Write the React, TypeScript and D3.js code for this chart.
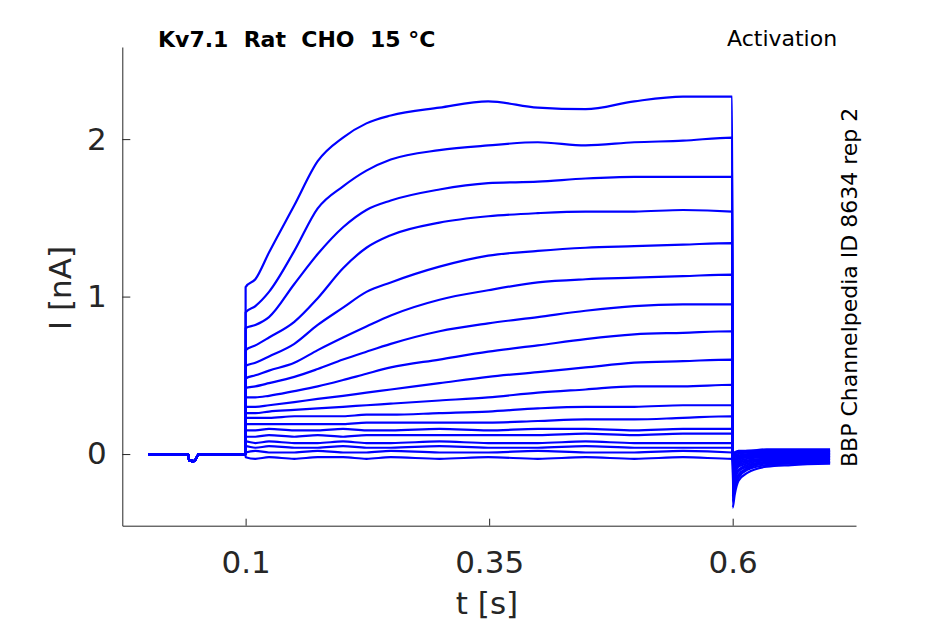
import React, { useEffect, useRef } from 'react';
import * as d3 from 'd3';

// tick values
const xTicks = [0.1, 0.35, 0.6];
const xTickLabels = ['0.1', '0.35', '0.6'];
const yTicks = [0, 1, 2];

// holding period before the step (all sweeps overlap here)
const baselineTimes = [0, 0.041, 0.042, 0.047, 0.049, 0.052, 0.0999];
const baselineCurrents = [0, 0, -0.04, -0.045, -0.03, 0, 0];

// sample times during the activation step (s)
const stepTimes = [0.1, 0.11, 0.124, 0.15, 0.174, 0.2, 0.224, 0.249, 0.299, 0.349, 0.4, 0.449, 0.499, 0.549, 0.5995];

// current (nA) of each sweep during the step
const stepCurrents = [
    [1.06, 1.11, 1.28, 1.58, 1.86, 2.01, 2.10, 2.15, 2.20, 2.24, 2.20, 2.19, 2.24, 2.27, 2.27],
    [0.90, 0.94, 1.03, 1.29, 1.56, 1.70, 1.80, 1.87, 1.93, 1.96, 1.98, 1.96, 1.98, 1.99, 2.01],
    [0.80, 0.82, 0.87, 1.08, 1.27, 1.44, 1.55, 1.61, 1.68, 1.72, 1.73, 1.75, 1.76, 1.76, 1.76],
    [0.66, 0.69, 0.74, 0.84, 0.99, 1.18, 1.31, 1.39, 1.47, 1.51, 1.53, 1.54, 1.54, 1.55, 1.54],
    [0.56, 0.58, 0.62, 0.70, 0.82, 0.93, 1.03, 1.09, 1.19, 1.26, 1.29, 1.31, 1.32, 1.33, 1.34],
    [0.48, 0.50, 0.53, 0.58, 0.66, 0.74, 0.81, 0.88, 0.98, 1.04, 1.09, 1.11, 1.12, 1.13, 1.14],
    [0.42, 0.43, 0.45, 0.49, 0.54, 0.60, 0.65, 0.70, 0.78, 0.83, 0.87, 0.91, 0.94, 0.95, 0.95],
    [0.36, 0.36, 0.37, 0.40, 0.43, 0.47, 0.51, 0.55, 0.60, 0.65, 0.69, 0.73, 0.76, 0.77, 0.78],
    [0.30, 0.30, 0.31, 0.33, 0.35, 0.37, 0.39, 0.41, 0.45, 0.49, 0.52, 0.55, 0.58, 0.59, 0.60],
    [0.26, 0.26, 0.27, 0.28, 0.29, 0.30, 0.31, 0.32, 0.34, 0.36, 0.39, 0.41, 0.43, 0.43, 0.44],
    [0.23, 0.23, 0.23, 0.24, 0.24, 0.24, 0.25, 0.25, 0.26, 0.27, 0.29, 0.30, 0.30, 0.31, 0.31],
    [0.19, 0.19, 0.19, 0.19, 0.19, 0.19, 0.20, 0.20, 0.20, 0.20, 0.21, 0.22, 0.22, 0.23, 0.24],
    [0.15, 0.15, 0.16, 0.15, 0.15, 0.16, 0.15, 0.15, 0.16, 0.15, 0.16, 0.16, 0.15, 0.16, 0.16],
    [0.11, 0.11, 0.12, 0.11, 0.12, 0.11, 0.12, 0.12, 0.12, 0.12, 0.12, 0.13, 0.12, 0.13, 0.13],
    [0.08, 0.07, 0.08, 0.07, 0.07, 0.08, 0.07, 0.07, 0.08, 0.07, 0.07, 0.08, 0.07, 0.07, 0.07],
    [0.05, 0.04, 0.05, 0.04, 0.04, 0.05, 0.04, 0.04, 0.05, 0.04, 0.04, 0.05, 0.04, 0.04, 0.04],
    [0.01, 0.02, 0.01, 0.01, 0.02, 0.01, 0.01, 0.02, 0.01, 0.01, 0.02, 0.01, 0.01, 0.02, 0.01],
    [-0.02, -0.03, -0.02, -0.03, -0.02, -0.02, -0.03, -0.02, -0.03, -0.02, -0.03, -0.02, -0.03, -0.02, -0.03],
];

// tail after the step
const tailTimes = [0.6, 0.602, 0.606, 0.615, 0.635, 0.66, 0.7];
const tailCurrents = [
    [-0.34, -0.26, -0.17, -0.12, -0.08, -0.07, -0.06],
    [-0.30, -0.23, -0.15, -0.10, -0.07, -0.06, -0.06],
    [-0.27, -0.20, -0.13, -0.09, -0.06, -0.06, -0.05],
    [-0.23, -0.17, -0.11, -0.08, -0.05, -0.05, -0.05],
    [-0.20, -0.15, -0.10, -0.07, -0.05, -0.04, -0.04],
    [-0.17, -0.13, -0.08, -0.06, -0.04, -0.04, -0.03],
    [-0.14, -0.11, -0.07, -0.05, -0.03, -0.03, -0.03],
    [-0.12, -0.09, -0.06, -0.04, -0.03, -0.02, -0.02],
    [-0.10, -0.07, -0.05, -0.03, -0.02, -0.02, -0.02],
    [-0.08, -0.06, -0.04, -0.02, -0.02, -0.01, -0.01],
    [-0.07, -0.05, -0.03, -0.02, -0.01, -0.01, -0.01],
    [-0.06, -0.04, -0.02, -0.01, -0.01, 0.00, 0.00],
    [-0.05, -0.03, -0.02, -0.01, 0.00, 0.00, 0.00],
    [-0.04, -0.02, -0.01, 0.00, 0.00, 0.01, 0.01],
    [-0.03, -0.01, 0.00, 0.01, 0.01, 0.01, 0.01],
    [-0.02, 0.00, 0.01, 0.01, 0.02, 0.02, 0.02],
    [-0.01, 0.01, 0.01, 0.02, 0.02, 0.02, 0.02],
    [0.00, 0.01, 0.02, 0.02, 0.03, 0.03, 0.03],
];

const title = 'Kv7.1  Rat  CHO  15 °C';
const protocolLabel = 'Activation';
const sourceLabel = 'BBP Channelpedia ID 8634 rep 2';

const App: React.FC = () => {
    const svgRef = useRef<HTMLDivElement>(null);

    useEffect(() => {
        if (!svgRef.current) return;
        const width = 945;
        const height = 624;
        const font = '"DejaVu Sans", sans-serif';
        const axisColor = '#262626';

        const svg = d3.select(svgRef.current)
            .append('svg')
            .attr('width', width)
            .attr('height', height)
            .style('position', 'absolute')
            .style('left', 0)
            .style('top', 0)
            .style('background', 'white');

        const x = d3.scaleLinear().domain([-0.0266, 0.7266]).range([122.3, 856]);
        const y = d3.scaleLinear().domain([-0.455, 2.585]).range([525.7, 47]);

        const line = d3.line<[number, number]>()
            .x(d => x(d[0]))
            .y(d => y(d[1]))
            .curve(d3.curveMonotoneX);

        const sweeps = stepCurrents.map((values, i) => {
            const pts: [number, number][] = [];
            baselineTimes.forEach((t, j) => pts.push([t, baselineCurrents[j]]));
            stepTimes.forEach((t, j) => pts.push([t, values[j]]));
            tailTimes.forEach((t, j) => pts.push([t, tailCurrents[i][j]]));
            return pts;
        });

        svg.append('g')
            .selectAll('path')
            .data(sweeps.slice().reverse())
            .enter()
            .append('path')
            .attr('d', d => line(d))
            .attr('fill', 'none')
            .attr('stroke', '#0000ff')
            .attr('stroke-width', 2.2)
            .attr('stroke-linejoin', 'round');

        // axes
        const xAxis = svg.append('g')
            .attr('transform', `translate(0, ${y.range()[0]})`)
            .call(d3.axisBottom(x).tickValues(xTicks).tickFormat((_, i) => xTickLabels[i])
                .tickSize(-7).tickSizeOuter(0).tickPadding(25));
        const yAxis = svg.append('g')
            .attr('transform', `translate(${x.range()[0]}, 0)`)
            .call(d3.axisLeft(y).tickValues(yTicks).tickFormat(d3.format('d'))
                .tickSize(-8).tickSizeOuter(0).tickPadding(15.5));

        [xAxis, yAxis].forEach(ax => {
            ax.select('.domain').attr('stroke', axisColor).attr('stroke-width', 1);
            ax.selectAll('.tick line').attr('stroke', axisColor).attr('stroke-width', 1);
            ax.selectAll('.tick text')
                .attr('fill', axisColor)
                .style('font-family', font)
                .style('font-size', '31px');
        });

        svg.append('text')
            .attr('x', 487)
            .attr('y', 614)
            .attr('text-anchor', 'middle')
            .attr('fill', axisColor)
            .style('font-family', font)
            .style('font-size', '31px')
            .text('t [s]');

        svg.append('text')
            .attr('transform', 'translate(71, 288) rotate(-90)')
            .attr('text-anchor', 'middle')
            .attr('fill', axisColor)
            .style('font-family', font)
            .style('font-size', '31px')
            .text('I [nA]');

        svg.append('text')
            .attr('x', 158)
            .attr('y', 47)
            .attr('fill', 'black')
            .style('font-family', font)
            .style('font-weight', 'bold')
            .style('font-size', '22px')
            .style('white-space', 'pre')
            .text(title);

        svg.append('text')
            .attr('x', 727)
            .attr('y', 46)
            .attr('fill', 'black')
            .style('font-family', font)
            .style('font-size', '22px')
            .text(protocolLabel);

        svg.append('text')
            .attr('transform', 'translate(857, 467) rotate(-90)')
            .attr('fill', 'black')
            .style('font-family', font)
            .style('font-size', '22px')
            .text(sourceLabel);

        return () => {
            svg.remove();
        };
    }, []);

    return <div ref={svgRef}></div>;
};

export default App;
